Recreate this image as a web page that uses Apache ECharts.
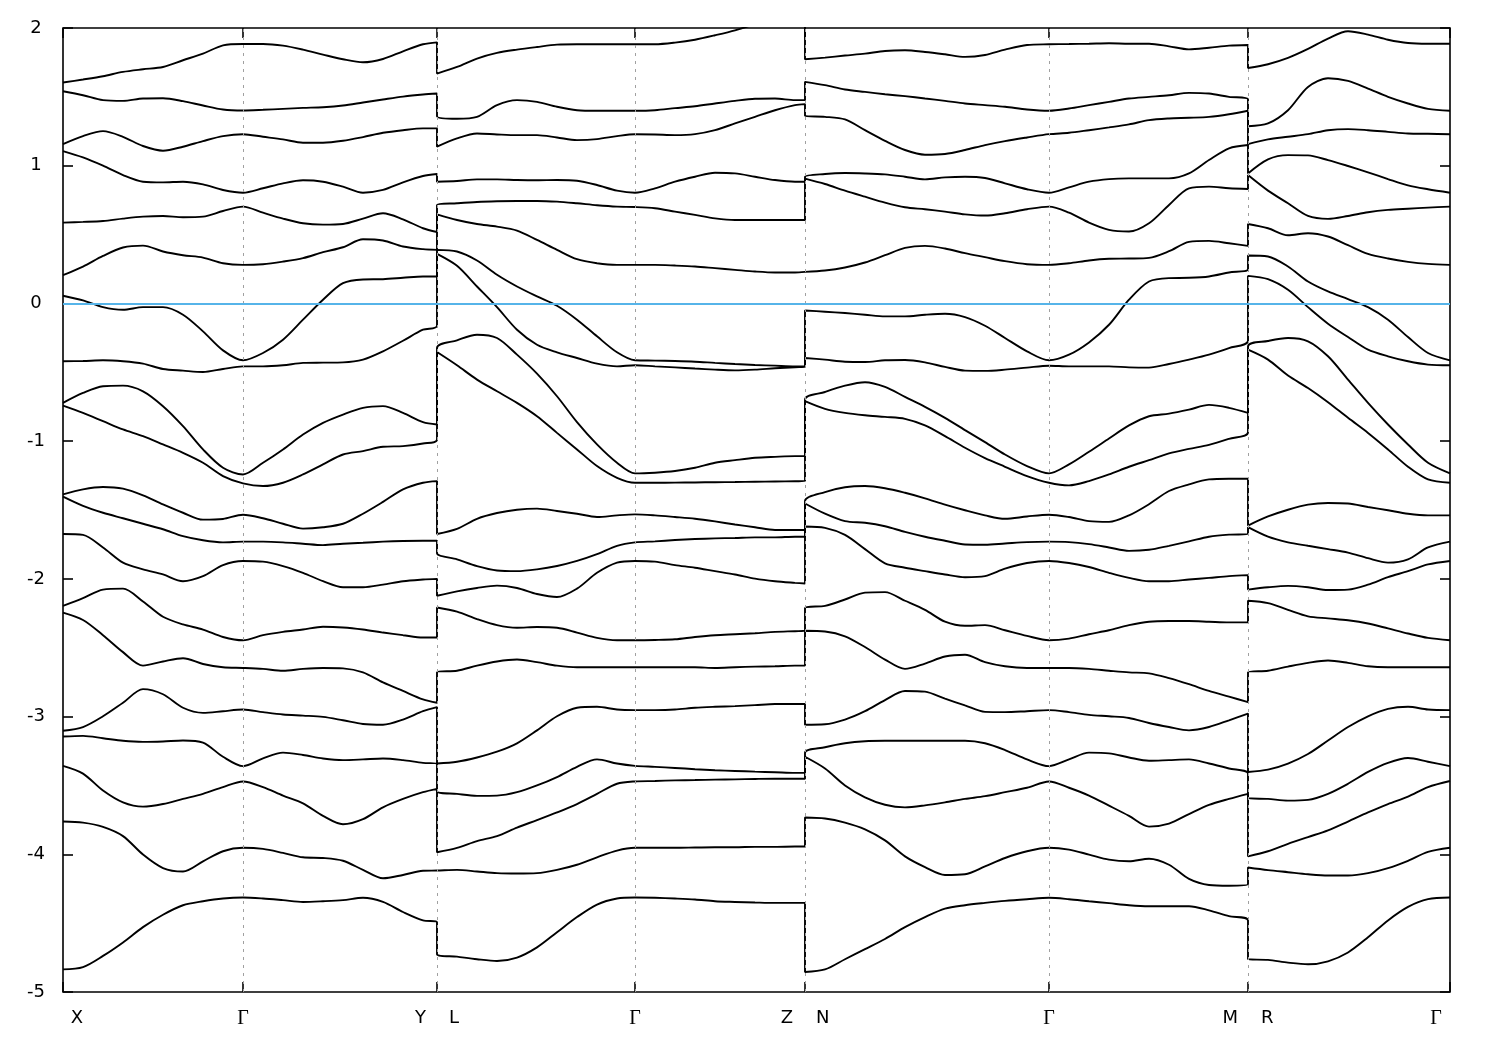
<!DOCTYPE html>
<html>
<head>
<meta charset="utf-8">
<script src="https://cdn.jsdelivr.net/npm/echarts@6/dist/echarts.min.js"></script>
<style>html,body{margin:0;padding:0;background:#fff}#c{width:1500px;height:1050px}</style>
</head>
<body>
<div id="c"></div>
<script>
// ---- high-symmetry points (k-path distance) and their labels ----
const tickK = [0, 180, 374, 572, 742, 986, 1185, 1387];
const tickLabels = ['X', 'Γ', 'Y    L', 'Γ', 'Z    N', 'Γ', 'M    R', 'Γ'];
const fermiLevel = 0;
const yTicks = { min: -5, max: 2, step: 1 };

// ---- k samples on each path segment ----
const kXGY = [0,20,40,60,80,100,120,140,160,180,200,220,240,260,280,300,320,340,360,374];
const kLGZ = [374,394,414,434,454,474,494,514,534,554,572,592,612,632,652,672,692,712,732,742];
const kNGM = [742,762,782,802,822,842,862,882,902,922,942,964,986,1006,1026,1046,1066,1086,1106,1126,1146,1166,1185];
const kRG  = [1185,1205,1225,1245,1265,1285,1305,1325,1345,1365,1387];

// ---- band energies (eV), band 1 = highest ----
const bandsXGY = [
 [1.604,1.626,1.650,1.681,1.700,1.717,1.766,1.814,1.874,1.884,1.884,1.872,1.843,1.807,1.773,1.751,1.775,1.831,1.882,1.896],
 [1.541,1.512,1.476,1.471,1.488,1.490,1.469,1.437,1.408,1.401,1.406,1.413,1.420,1.425,1.437,1.459,1.481,1.502,1.517,1.524],
 [1.157,1.215,1.251,1.210,1.143,1.109,1.138,1.179,1.215,1.229,1.210,1.191,1.167,1.167,1.181,1.208,1.239,1.258,1.271,1.271],
 [1.106,1.060,1.000,0.932,0.884,0.879,0.884,0.865,0.824,0.804,0.836,0.872,0.894,0.884,0.848,0.804,0.824,0.879,0.925,0.940],
 [0.587,0.592,0.599,0.616,0.630,0.635,0.626,0.630,0.671,0.703,0.659,0.616,0.582,0.572,0.577,0.616,0.655,0.611,0.546,0.519],
 [0.205,0.268,0.345,0.406,0.420,0.377,0.350,0.333,0.292,0.280,0.285,0.304,0.329,0.372,0.408,0.466,0.457,0.413,0.394,0.389],
 [0.056,0.022,-0.027,-0.046,-0.027,-0.027,-0.082,-0.203,-0.341,-0.413,-0.360,-0.263,-0.118,0.027,0.147,0.174,0.176,0.186,0.196,0.196],
 [-0.420,-0.418,-0.413,-0.420,-0.437,-0.476,-0.488,-0.498,-0.476,-0.457,-0.457,-0.449,-0.432,-0.430,-0.428,-0.408,-0.348,-0.271,-0.191,-0.162],
 [-0.722,-0.650,-0.601,-0.597,-0.638,-0.746,-0.891,-1.060,-1.193,-1.242,-1.157,-1.060,-0.952,-0.867,-0.807,-0.758,-0.746,-0.795,-0.862,-0.879],
 [-0.742,-0.795,-0.855,-0.915,-0.964,-1.024,-1.085,-1.157,-1.254,-1.307,-1.326,-1.302,-1.242,-1.169,-1.097,-1.072,-1.041,-1.036,-1.017,-0.988],
 [-1.386,-1.350,-1.333,-1.345,-1.394,-1.460,-1.520,-1.570,-1.565,-1.534,-1.560,-1.600,-1.635,-1.625,-1.600,-1.527,-1.441,-1.350,-1.302,-1.290],
 [-1.403,-1.470,-1.520,-1.560,-1.600,-1.640,-1.690,-1.720,-1.735,-1.730,-1.730,-1.735,-1.745,-1.755,-1.745,-1.738,-1.730,-1.725,-1.723,-1.723],
 [-1.674,-1.681,-1.772,-1.882,-1.931,-1.968,-2.017,-1.980,-1.900,-1.870,-1.875,-1.907,-1.956,-2.017,-2.061,-2.061,-2.042,-2.017,-2.005,-2.000],
 [-2.196,-2.140,-2.078,-2.071,-2.164,-2.275,-2.331,-2.368,-2.422,-2.446,-2.409,-2.385,-2.368,-2.348,-2.353,-2.368,-2.390,-2.409,-2.426,-2.426],
 [-2.245,-2.299,-2.409,-2.532,-2.630,-2.600,-2.576,-2.618,-2.642,-2.647,-2.654,-2.667,-2.654,-2.647,-2.650,-2.679,-2.752,-2.814,-2.875,-2.900],
 [-3.103,-3.076,-2.998,-2.900,-2.801,-2.838,-2.936,-2.973,-2.961,-2.949,-2.968,-2.985,-2.993,-3.002,-3.027,-3.054,-3.059,-3.022,-2.961,-2.931],
 [-3.145,-3.140,-3.157,-3.176,-3.184,-3.181,-3.174,-3.189,-3.292,-3.360,-3.304,-3.262,-3.279,-3.304,-3.316,-3.311,-3.304,-3.316,-3.336,-3.341],
 [-3.358,-3.414,-3.537,-3.623,-3.654,-3.635,-3.598,-3.561,-3.512,-3.471,-3.512,-3.574,-3.630,-3.721,-3.782,-3.745,-3.659,-3.598,-3.549,-3.525],
 [-3.762,-3.770,-3.801,-3.868,-4.002,-4.100,-4.125,-4.051,-3.978,-3.953,-3.961,-3.990,-4.022,-4.027,-4.047,-4.113,-4.174,-4.150,-4.120,-4.118],
 [-4.836,-4.819,-4.738,-4.640,-4.529,-4.439,-4.370,-4.341,-4.321,-4.314,-4.321,-4.333,-4.346,-4.341,-4.333,-4.316,-4.346,-4.419,-4.480,-4.493]
];
const bandsLGZ = [
 [1.669,1.717,1.778,1.819,1.843,1.862,1.879,1.882,1.882,1.882,1.882,1.882,1.894,1.915,1.947,1.983,2.03,2.09,2.14,2.16],
 [1.360,1.341,1.355,1.440,1.476,1.464,1.428,1.403,1.399,1.399,1.399,1.403,1.418,1.432,1.452,1.471,1.486,1.488,1.476,1.476],
 [1.138,1.198,1.234,1.227,1.222,1.222,1.205,1.186,1.193,1.215,1.229,1.227,1.222,1.229,1.258,1.307,1.355,1.403,1.440,1.447],
 [0.884,0.889,0.901,0.901,0.896,0.894,0.896,0.891,0.860,0.819,0.804,0.836,0.884,0.920,0.949,0.944,0.920,0.896,0.884,0.884],
 [0.715,0.727,0.737,0.742,0.744,0.744,0.739,0.727,0.713,0.703,0.700,0.691,0.667,0.643,0.618,0.606,0.606,0.606,0.606,0.606],
 [0.647,0.606,0.577,0.558,0.529,0.461,0.389,0.321,0.292,0.280,0.280,0.280,0.275,0.268,0.256,0.244,0.232,0.225,0.225,0.229],
 [0.389,0.377,0.312,0.208,0.123,0.051,-0.017,-0.118,-0.239,-0.355,-0.413,-0.415,-0.418,-0.423,-0.432,-0.440,-0.447,-0.452,-0.457,-0.457],
 [0.360,0.273,0.123,-0.027,-0.191,-0.300,-0.355,-0.396,-0.437,-0.457,-0.449,-0.457,-0.464,-0.473,-0.481,-0.486,-0.481,-0.471,-0.463,-0.460],
 [-0.324,-0.268,-0.227,-0.251,-0.372,-0.510,-0.674,-0.862,-1.024,-1.157,-1.234,-1.229,-1.217,-1.193,-1.157,-1.138,-1.121,-1.114,-1.109,-1.109],
 [-0.353,-0.449,-0.553,-0.638,-0.722,-0.819,-0.940,-1.060,-1.181,-1.266,-1.302,-1.302,-1.301,-1.300,-1.298,-1.297,-1.295,-1.293,-1.291,-1.290],
 [-1.674,-1.637,-1.564,-1.522,-1.498,-1.490,-1.507,-1.527,-1.551,-1.539,-1.532,-1.539,-1.551,-1.564,-1.583,-1.605,-1.625,-1.645,-1.645,-1.645],
 [-1.814,-1.858,-1.907,-1.939,-1.944,-1.931,-1.907,-1.870,-1.821,-1.760,-1.735,-1.728,-1.718,-1.711,-1.706,-1.703,-1.699,-1.699,-1.694,-1.694],
 [-2.123,-2.091,-2.066,-2.049,-2.066,-2.110,-2.132,-2.071,-1.956,-1.882,-1.870,-1.875,-1.900,-1.919,-1.944,-1.968,-1.998,-2.017,-2.029,-2.034],
 [-2.208,-2.238,-2.292,-2.336,-2.355,-2.350,-2.355,-2.390,-2.429,-2.446,-2.446,-2.444,-2.439,-2.422,-2.409,-2.402,-2.395,-2.385,-2.380,-2.377],
 [-2.679,-2.667,-2.630,-2.600,-2.586,-2.605,-2.630,-2.642,-2.642,-2.642,-2.642,-2.642,-2.642,-2.642,-2.647,-2.642,-2.637,-2.635,-2.630,-2.630],
 [-3.341,-3.328,-3.297,-3.255,-3.194,-3.100,-2.998,-2.936,-2.929,-2.949,-2.953,-2.953,-2.949,-2.936,-2.929,-2.924,-2.917,-2.909,-2.909,-2.909],
 [-3.542,-3.561,-3.576,-3.574,-3.549,-3.500,-3.439,-3.365,-3.311,-3.341,-3.358,-3.365,-3.373,-3.382,-3.390,-3.395,-3.400,-3.404,-3.409,-3.409],
 [-3.985,-3.953,-3.904,-3.868,-3.806,-3.752,-3.696,-3.635,-3.561,-3.488,-3.471,-3.468,-3.463,-3.461,-3.458,-3.456,-3.453,-3.451,-3.451,-3.451],
 [-4.118,-4.113,-4.125,-4.137,-4.140,-4.137,-4.113,-4.076,-4.022,-3.973,-3.953,-3.953,-3.953,-3.951,-3.949,-3.949,-3.946,-3.946,-3.944,-3.944],
 [-4.725,-4.743,-4.762,-4.775,-4.750,-4.676,-4.566,-4.456,-4.365,-4.321,-4.314,-4.316,-4.321,-4.328,-4.341,-4.346,-4.350,-4.353,-4.353,-4.353]
];
const bandsNGM = [
 [1.773,1.785,1.800,1.814,1.833,1.838,1.826,1.809,1.790,1.804,1.843,1.877,1.882,1.884,1.886,1.889,1.886,1.886,1.867,1.845,1.857,1.872,1.877],
 [1.609,1.585,1.553,1.536,1.519,1.505,1.488,1.471,1.452,1.440,1.428,1.408,1.399,1.415,1.440,1.464,1.488,1.500,1.512,1.529,1.524,1.500,1.483],
 [1.362,1.355,1.336,1.258,1.181,1.114,1.080,1.085,1.114,1.150,1.179,1.205,1.229,1.239,1.258,1.278,1.300,1.331,1.343,1.348,1.355,1.374,1.399],
 [0.920,0.940,0.947,0.944,0.937,0.920,0.901,0.915,0.920,0.911,0.872,0.829,0.804,0.843,0.884,0.903,0.908,0.908,0.908,0.944,1.041,1.126,1.150],
 [0.906,0.867,0.819,0.775,0.732,0.698,0.684,0.667,0.647,0.638,0.655,0.684,0.703,0.659,0.587,0.534,0.522,0.582,0.715,0.836,0.848,0.836,0.831],
 [0.225,0.239,0.261,0.297,0.350,0.403,0.418,0.399,0.365,0.336,0.307,0.285,0.280,0.292,0.312,0.324,0.326,0.331,0.379,0.447,0.454,0.437,0.418],
 [-0.051,-0.060,-0.070,-0.082,-0.094,-0.094,-0.082,-0.075,-0.099,-0.162,-0.251,-0.348,-0.413,-0.372,-0.283,-0.155,0.027,0.159,0.184,0.186,0.196,0.225,0.249],
 [-0.396,-0.408,-0.423,-0.425,-0.413,-0.411,-0.428,-0.461,-0.488,-0.490,-0.481,-0.466,-0.452,-0.457,-0.457,-0.457,-0.464,-0.466,-0.440,-0.408,-0.372,-0.324,-0.271],
 [-0.698,-0.643,-0.597,-0.572,-0.606,-0.679,-0.751,-0.831,-0.920,-1.007,-1.097,-1.181,-1.234,-1.169,-1.077,-0.981,-0.886,-0.819,-0.800,-0.771,-0.737,-0.758,-0.795],
 [-0.710,-0.766,-0.795,-0.812,-0.824,-0.838,-0.886,-0.964,-1.048,-1.123,-1.186,-1.254,-1.302,-1.321,-1.290,-1.242,-1.186,-1.138,-1.089,-1.056,-1.027,-0.983,-0.935],
 [-1.435,-1.370,-1.335,-1.326,-1.342,-1.375,-1.415,-1.461,-1.502,-1.539,-1.564,-1.547,-1.534,-1.551,-1.581,-1.586,-1.539,-1.458,-1.362,-1.314,-1.278,-1.273,-1.273],
 [-1.453,-1.527,-1.581,-1.593,-1.618,-1.659,-1.694,-1.723,-1.750,-1.752,-1.743,-1.733,-1.730,-1.733,-1.748,-1.772,-1.797,-1.789,-1.760,-1.728,-1.694,-1.679,-1.674],
 [-1.620,-1.630,-1.681,-1.784,-1.887,-1.919,-1.944,-1.968,-1.988,-1.980,-1.926,-1.885,-1.870,-1.885,-1.914,-1.956,-1.993,-2.017,-2.017,-2.005,-1.993,-1.980,-1.973],
 [-2.213,-2.196,-2.150,-2.100,-2.096,-2.159,-2.225,-2.311,-2.341,-2.336,-2.373,-2.414,-2.446,-2.434,-2.402,-2.373,-2.336,-2.311,-2.306,-2.306,-2.311,-2.316,-2.316],
 [-2.377,-2.382,-2.417,-2.495,-2.586,-2.654,-2.615,-2.564,-2.551,-2.605,-2.635,-2.647,-2.647,-2.647,-2.654,-2.667,-2.679,-2.686,-2.721,-2.765,-2.814,-2.855,-2.895],
 [-3.059,-3.056,-3.022,-2.961,-2.880,-2.814,-2.819,-2.870,-2.919,-2.966,-2.968,-2.961,-2.953,-2.968,-2.988,-2.998,-3.010,-3.047,-3.076,-3.100,-3.076,-3.027,-2.978],
 [-3.262,-3.223,-3.194,-3.179,-3.176,-3.176,-3.176,-3.176,-3.176,-3.194,-3.243,-3.311,-3.360,-3.311,-3.262,-3.267,-3.297,-3.321,-3.316,-3.311,-3.341,-3.377,-3.414],
 [-3.292,-3.377,-3.500,-3.586,-3.640,-3.659,-3.645,-3.623,-3.598,-3.578,-3.549,-3.517,-3.471,-3.517,-3.574,-3.647,-3.721,-3.799,-3.777,-3.708,-3.642,-3.598,-3.561],
 [-3.733,-3.740,-3.770,-3.819,-3.899,-4.015,-4.093,-4.150,-4.145,-4.088,-4.027,-3.978,-3.953,-3.966,-4.002,-4.039,-4.051,-4.032,-4.076,-4.179,-4.223,-4.228,-4.218],
 [-4.855,-4.836,-4.762,-4.689,-4.615,-4.529,-4.456,-4.395,-4.370,-4.353,-4.338,-4.326,-4.316,-4.326,-4.341,-4.355,-4.370,-4.377,-4.377,-4.377,-4.407,-4.449,-4.480]
];
const bandsRG = [
 [1.710,1.737,1.783,1.848,1.923,1.976,1.952,1.915,1.891,1.886,1.886],
 [1.287,1.307,1.403,1.572,1.635,1.616,1.560,1.500,1.452,1.413,1.399],
 [1.157,1.191,1.210,1.229,1.258,1.266,1.258,1.246,1.234,1.232,1.229],
 [0.944,1.046,1.077,1.075,1.041,0.998,0.952,0.903,0.857,0.829,0.804],
 [0.932,0.819,0.727,0.635,0.614,0.635,0.662,0.679,0.688,0.696,0.703],
 [0.577,0.546,0.495,0.510,0.486,0.423,0.360,0.326,0.302,0.287,0.280],
 [0.348,0.341,0.268,0.159,0.087,0.031,-0.027,-0.118,-0.244,-0.360,-0.413],
 [0.200,0.176,0.099,-0.027,-0.147,-0.244,-0.336,-0.384,-0.420,-0.444,-0.449],
 [-0.312,-0.273,-0.251,-0.275,-0.384,-0.553,-0.722,-0.879,-1.024,-1.157,-1.234],
 [-0.336,-0.408,-0.524,-0.614,-0.717,-0.831,-0.940,-1.060,-1.186,-1.278,-1.302],
 [-1.613,-1.547,-1.498,-1.461,-1.449,-1.453,-1.478,-1.502,-1.527,-1.539,-1.539],
 [-1.625,-1.694,-1.735,-1.760,-1.784,-1.809,-1.850,-1.882,-1.858,-1.772,-1.730],
 [-2.078,-2.061,-2.051,-2.061,-2.081,-2.078,-2.042,-1.988,-1.944,-1.895,-1.870],
 [-2.159,-2.176,-2.225,-2.272,-2.287,-2.301,-2.324,-2.360,-2.397,-2.429,-2.446],
 [-2.679,-2.667,-2.637,-2.610,-2.593,-2.610,-2.635,-2.642,-2.642,-2.642,-2.642],
 [-3.402,-3.385,-3.341,-3.272,-3.174,-3.076,-2.998,-2.944,-2.929,-2.949,-2.953],
 [-3.591,-3.598,-3.610,-3.605,-3.561,-3.488,-3.402,-3.336,-3.301,-3.328,-3.360],
 [-4.015,-3.978,-3.924,-3.875,-3.826,-3.762,-3.696,-3.635,-3.581,-3.512,-3.468],
 [-4.096,-4.115,-4.130,-4.145,-4.154,-4.154,-4.137,-4.100,-4.047,-3.983,-3.953],
 [-4.762,-4.767,-4.787,-4.799,-4.777,-4.713,-4.603,-4.480,-4.382,-4.326,-4.314]
];

// ---- build one continuous series per band along the whole path ----
const segments = [[kXGY, bandsXGY], [kLGZ, bandsLGZ], [kNGM, bandsNGM], [kRG, bandsRG]];
const nBands = bandsXGY.length;
const bandSeries = [];
for (let b = 0; b < nBands; b++) {
  const pts = [];
  segments.forEach(([ks, bands]) => {
    ks.forEach((k, j) => {
      const v = bands[b][j];
      const last = pts[pts.length - 1];
      if (last && last[0] === k && Math.abs(last[1] - v) < 1e-9) return;
      pts.push([k, v]);
    });
  });
  bandSeries.push({
    type: 'line', data: pts, xAxisIndex: 0, yAxisIndex: 0,
    showSymbol: false, symbol: 'none', smooth: 0.3, clip: true, silent: true,
    lineStyle: { color: '#000', width: 1.9 }, z: 3, animation: false
  });
}

const innerTicks = tickK.slice(1, -1);
const serifFont = 'Liberation Serif';
const sansFont = 'DejaVu Sans';

const chart = echarts.init(document.getElementById('c'), null, { renderer: 'canvas' });
chart.setOption({
  animation: false,
  backgroundColor: '#fff',
  grid: { left: 63, right: 50, top: 28, bottom: 58, show: true, borderColor: '#000', borderWidth: 1.6, backgroundColor: 'transparent' },
  xAxis: [
    {
      type: 'value', min: tickK[0], max: tickK[tickK.length - 1], position: 'bottom',
      axisLine: { show: false, onZero: false },
      axisTick: { show: true, inside: true, length: 10, customValues: tickK, lineStyle: { color: '#000', width: 1.6 } },
      axisLabel: {
        show: true, customValues: tickK, margin: 17, color: '#000', fontSize: 18, fontFamily: sansFont,
        formatter: function (v) {
          const i = tickK.indexOf(v);
          const s = tickLabels[i];
          if (i === 0) return '{first|' + s + '}';
          if (i === tickK.length - 1) return '{last|' + s + '}';
          if (s === 'Γ') return '{g|Γ}';
          return s;
        },
        rich: {
          first: { fontSize: 18, fontFamily: sansFont, color: '#000', padding: [0, 0, 0, 28] },
          last: { fontSize: 20, fontFamily: serifFont, color: '#000', padding: [0, 28, 0, 0] },
          g: { fontSize: 20, fontFamily: serifFont, color: '#000' }
        }
      },
      splitLine: { show: false }
    },
    {
      type: 'value', min: tickK[0], max: tickK[tickK.length - 1], position: 'top',
      axisLine: { show: false, onZero: false },
      axisTick: { show: true, inside: true, length: 10, customValues: tickK, lineStyle: { color: '#000', width: 1.6 } },
      axisLabel: { show: false },
      splitLine: { show: false }
    }
  ],
  yAxis: [
    {
      type: 'value', min: yTicks.min, max: yTicks.max, interval: yTicks.step, position: 'left',
      axisLine: { show: false, onZero: false },
      axisTick: { show: true, inside: true, length: 10, lineStyle: { color: '#000', width: 1.6 } },
      axisLabel: { show: true, color: '#000', fontSize: 18, fontFamily: sansFont, align: 'center', margin: 27 },
      splitLine: { show: false }
    },
    {
      type: 'value', min: yTicks.min, max: yTicks.max, interval: yTicks.step, position: 'right',
      axisLine: { show: false, onZero: false },
      axisTick: { show: true, inside: true, length: 10, lineStyle: { color: '#000', width: 1.6 } },
      axisLabel: { show: false },
      splitLine: { show: false }
    }
  ],
  series: [
    {
      type: 'line', data: [], xAxisIndex: 0, yAxisIndex: 0, silent: true, z: 1,
      markLine: {
        silent: true, symbol: ['none', 'none'], label: { show: false }, animation: false,
        lineStyle: { color: '#a0a0a0', width: 1, type: [3, 5] },
        emphasis: { disabled: true },
        data: innerTicks.map(k => ({ xAxis: k }))
      }
    }
  ].concat(bandSeries).concat([
    {
      type: 'line', data: [], xAxisIndex: 0, yAxisIndex: 0, silent: true, z: 5,
      markLine: {
        silent: true, symbol: ['none', 'none'], label: { show: false }, animation: false,
        lineStyle: { color: '#56b4e9', width: 1.9, type: 'solid' },
        emphasis: { disabled: true },
        data: [{ yAxis: fermiLevel }]
      }
    }
  ])
});
</script>
</body>
</html>
